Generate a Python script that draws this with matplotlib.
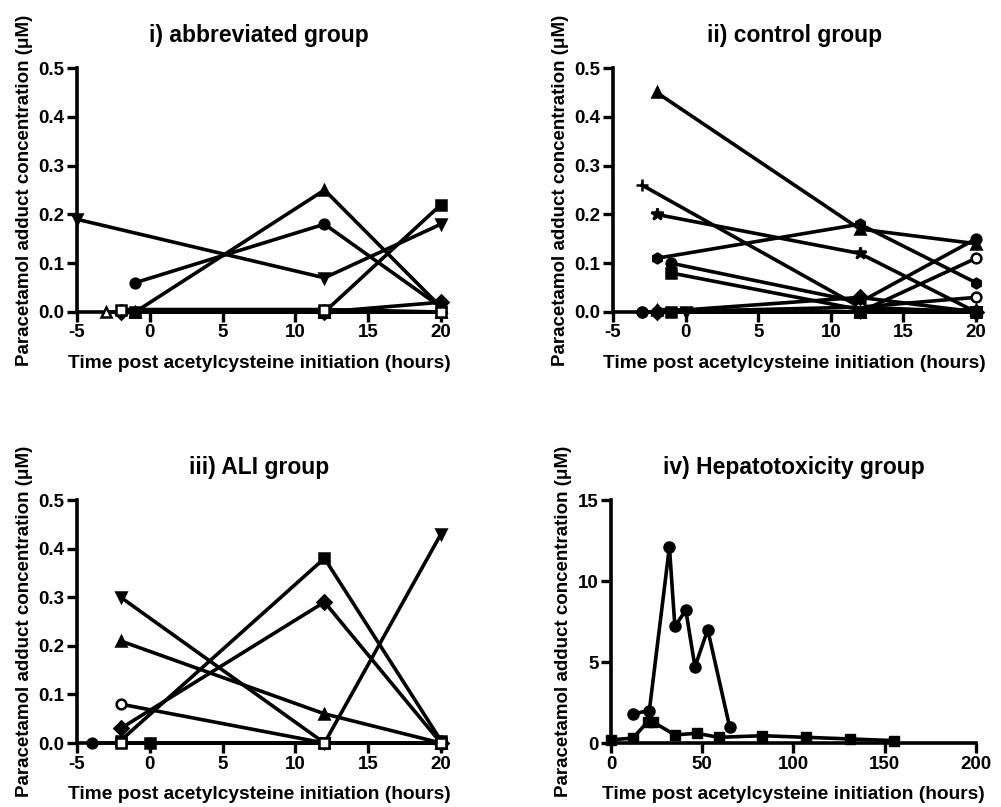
import matplotlib
matplotlib.use('Agg')
import matplotlib.pyplot as plt

plt.rcParams['font.family'] = ['Liberation Sans', 'DejaVu Sans']
plt.rcParams['font.weight'] = 'bold'
plt.rcParams['axes.unicode_minus'] = False

# i) abbreviated group: (marker, filled, x, y)
abbrev_series = [
    ('v', True, [-5, 12, 20], [0.19, 0.07, 0.18]),
    ('o', True, [-1, 12, 20], [0.06, 0.18, 0.01]),
    ('^', True, [-1, 12, 20], [0.0, 0.25, 0.01]),
    ('o', True, [-1, 12, 20], [0.0, 0.0, 0.0]),
    ('s', True, [-1, 12, 20], [0.0, 0.0, 0.22]),
    ('D', True, [-2, 12, 20], [0.0, 0.0, 0.02]),
    ('^', False, [-3, 12, 20], [0.0, 0.0, 0.0]),
    ('s', False, [-2, 12, 20], [0.005, 0.005, 0.0]),
]

# ii) control group
control_series = [
    ('^', True, [-2, 12, 20], [0.45, 0.17, 0.14]),
    ('h', True, [-2, 12, 20], [0.11, 0.18, 0.06]),
    ('+', True, [-3, 12, 20], [0.26, 0.01, 0.0]),
    ('*', True, [-2, 12, 20], [0.20, 0.12, 0.0]),
    ('o', True, [-1, 12, 20], [0.10, 0.02, 0.15]),
    ('s', True, [-1, 12, 20], [0.08, 0.005, 0.0]),
    ('o', False, [-3, 12, 20], [0.0, 0.0, 0.11]),
    ('o', False, [-2, 12, 20], [0.0, 0.01, 0.03]),
    ('D', True, [-2, 12, 20], [0.0, 0.03, 0.0]),
    ('s', True, [-1, 12, 20], [0.0, 0.0, 0.0]),
    ('^', True, [-2, 12, 20], [0.005, 0.0, 0.005]),
    ('v', True, [0, 12, 20], [0.0, 0.0, 0.0]),
    ('o', True, [-3, 12, 20], [0.0, 0.0, 0.0]),
]

# iii) ALI group
ali_series = [
    ('v', True, [-2, 12, 20], [0.30, 0.0, 0.43]),
    ('s', True, [-2, 12, 20], [0.005, 0.38, 0.005]),
    ('D', True, [-2, 12, 20], [0.03, 0.29, 0.0]),
    ('^', True, [-2, 12, 20], [0.21, 0.06, 0.0]),
    ('o', False, [-2, 12, 20], [0.08, 0.0, 0.0]),
    ('o', True, [-4, 12, 20], [0.0, 0.0, 0.0]),
    ('s', True, [0, 12, 20], [0.0, 0.0, 0.0]),
    ('+', True, [0, 12, 20], [0.0, 0.0, 0.0]),
    ('s', False, [-2, 12, 20], [0.0, 0.0, 0.0]),
]

# iv) Hepatotoxicity group
hep_circle_x = [12, 21, 32, 35, 41, 46, 53, 65]
hep_circle_y = [1.8, 2.0, 12.1, 7.2, 8.2, 4.7, 7.0, 1.0]
hep_square_x = [0, 12, 20, 23, 35, 47, 59, 83, 107, 131, 155]
hep_square_y = [0.2, 0.3, 1.3, 1.3, 0.5, 0.6, 0.35, 0.45, 0.35, 0.25, 0.15]

titles = ['i) abbreviated group', 'ii) control group', 'iii) ALI group', 'iv) Hepatotoxicity group']
xlabel = 'Time post acetylcysteine initiation (hours)'
ylabel = 'Paracetamol adduct concentration (\u03bcM)'

LW = 2.6


def style_axes(ax, title):
    for side in ['top', 'right']:
        ax.spines[side].set_visible(False)
    for side in ['left', 'bottom']:
        ax.spines[side].set_linewidth(2.6)
    ax.tick_params(direction='out', length=7, width=2.4, labelsize=13.5, pad=2)
    for lab in ax.get_xticklabels() + ax.get_yticklabels():
        lab.set_fontweight('bold')
    ax.set_xlabel(xlabel, fontsize=13.8, fontweight='bold', labelpad=10)
    ax.set_ylabel(ylabel, fontsize=13.5, fontweight='bold', labelpad=4)
    ax.set_title(title, fontsize=16.5, fontweight='bold', pad=19)


def draw_series(ax, series):
    for marker, filled, xs, ys in series:
        ms = 7
        if marker in ['+', '*']:
            ms = 9
        ax.plot(xs, ys, color='black', lw=LW, marker=marker, ms=ms,
                mfc='black' if filled else 'white', mec='black', mew=1.8,
                clip_on=False, zorder=3)


fig = plt.figure(figsize=(10.01, 8.07), dpi=100)
positions = [
    [0.0769, 0.6134, 0.3636, 0.3023],
    [0.6124, 0.6134, 0.3626, 0.3023],
    [0.0769, 0.0793, 0.3636, 0.3011],
    [0.6104, 0.0793, 0.3646, 0.3011],
]
axes = [fig.add_axes(p) for p in positions]

for ax, series in zip(axes[:3], [abbrev_series, control_series, ali_series]):
    draw_series(ax, series)
    ax.set_xlim(-5, 20)
    ax.set_ylim(0, 0.5)
    ax.set_xticks([-5, 0, 5, 10, 15, 20])
    ax.set_yticks([0.0, 0.1, 0.2, 0.3, 0.4, 0.5])
    ax.set_yticklabels(['0.0', '0.1', '0.2', '0.3', '0.4', '0.5'])

ax = axes[3]
ax.plot(hep_circle_x, hep_circle_y, color='black', lw=LW, marker='o', ms=8,
        clip_on=False, zorder=3)
ax.plot(hep_square_x, hep_square_y, color='black', lw=LW, marker='s', ms=7,
        clip_on=False, zorder=3)
ax.set_xlim(0, 200)
ax.set_ylim(0, 15)
ax.set_xticks([0, 50, 100, 150, 200])
ax.set_yticks([0, 5, 10, 15])

for ax, title in zip(axes, titles):
    style_axes(ax, title)

fig.savefig('out.png', dpi=100)
